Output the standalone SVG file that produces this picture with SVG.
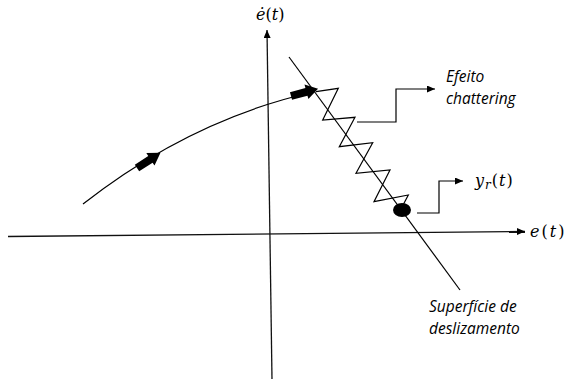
<svg xmlns="http://www.w3.org/2000/svg" width="568" height="379" viewBox="0 0 568 379">
<style>
.ln{fill:none;stroke:#000;stroke-width:1.2}
.ax{fill:none;stroke:#111;stroke-width:1.3}
.lbl{font-family:"Open Sans","Liberation Sans",sans-serif;font-style:italic;font-size:15.5px;fill:#000}
.math{font-family:"DejaVu Serif","Liberation Serif",serif;font-size:16px;fill:#000}
.it{font-style:italic}
</style>
<defs>
<marker id="ah" markerUnits="userSpaceOnUse" markerWidth="9" markerHeight="8" refX="8" refY="3.5" orient="auto">
<path d="M0,0 L8,3.5 L0,7 z" fill="#000"/>
</marker>
<path id="blk" d="M0,-4 L16,-4 L16,-7.5 L28,0 L16,7.5 L16,4 L0,4 z" fill="#000"/>
</defs>
<g id="connectors">
<line id="axis-e" class="ax" x1="8" y1="236.5" x2="525" y2="231.5" marker-end="url(#ah)"/>
<line id="axis-edot" class="ax" x1="272" y1="379" x2="267" y2="30" marker-end="url(#ah)"/>
<line id="surface" class="ln" x1="289" y1="57" x2="460" y2="290"/>
<path id="trajectory" class="ln" d="M83,204 Q190,120 313,92"/>
<polyline id="zigzag" class="ln" points="316,91.7 338.3,88.3 322.7,120 355,117.3 339.3,146.7 372.7,142.7 356,173.3 390,170 374,201.7 408.3,195 402,207"/>
<polyline id="chat-leader" class="ln" points="357,122 396,122 396,89 435,89" marker-end="url(#ah)"/>
<polyline id="yr-leader" class="ln" points="417,213 439,213 439,181 463,181" marker-end="url(#ah)"/>
</g>
<g id="dir-arrow-1"><use href="#blk" transform="translate(137,168) rotate(-33)"/></g>
<g id="dir-arrow-2"><use href="#blk" transform="translate(291,96) rotate(-15)"/></g>
<g id="reference-point"><ellipse cx="402" cy="210" rx="9" ry="7" fill="#000"/></g>
<g id="label-edot"><text class="math" x="256" y="20"><tspan class="it">ė</tspan>(<tspan class="it">t</tspan>)</text></g>
<g id="label-e"><text class="math" x="530" y="237" letter-spacing="2"><tspan class="it">e</tspan>(<tspan class="it">t</tspan>)</text></g>
<g id="label-yr"><text class="math" x="475" y="186" letter-spacing="1"><tspan class="it">y</tspan><tspan class="it" font-size="12" dy="3">r</tspan><tspan dy="-3">(</tspan><tspan class="it">t</tspan>)</text></g>
<g id="label-chattering"><text class="lbl" x="446" y="82">Efeito</text><text class="lbl" x="446" y="104">chattering</text></g>
<g id="label-surface"><text class="lbl" x="429" y="312">Superfície de</text><text class="lbl" x="429" y="334">deslizamento</text></g>
</svg>
